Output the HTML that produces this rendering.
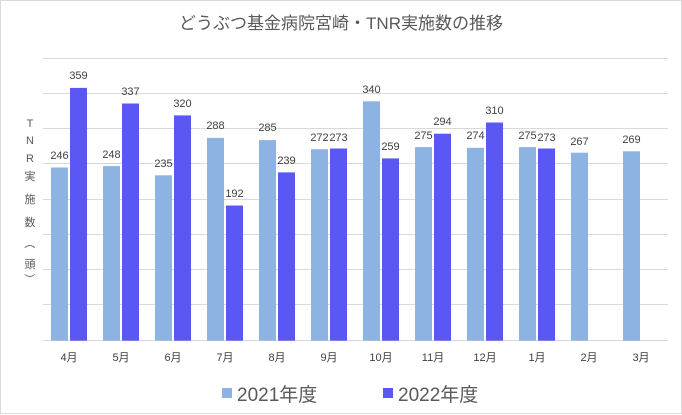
<!DOCTYPE html>
<html><head><meta charset="utf-8"><style>
html,body{margin:0;padding:0;background:#fff}
svg{display:block}
text{font-family:"Liberation Sans","Noto Sans CJK JP",sans-serif}
</style></head><body>
<svg width="682" height="415" viewBox="0 0 682 415" xmlns="http://www.w3.org/2000/svg">
<rect x="0.5" y="0.5" width="681" height="413" fill="#fff" stroke="#d9d9d9"/>
<text x="341" y="29" font-size="17" fill="#595959" text-anchor="middle">どうぶつ基金病院宮崎・TNR実施数の推移</text>
<g stroke="#d9d9d9" stroke-width="1">
<line x1="43" x2="668" y1="58.5" y2="58.5"/><line x1="43" x2="668" y1="93.5" y2="93.5"/>
<line x1="43" x2="668" y1="128.5" y2="128.5"/><line x1="43" x2="668" y1="163.5" y2="163.5"/>
<line x1="43" x2="668" y1="199.5" y2="199.5"/><line x1="43" x2="668" y1="234.5" y2="234.5"/>
<line x1="43" x2="668" y1="269.5" y2="269.5"/><line x1="43" x2="668" y1="304.5" y2="304.5"/>
<line x1="43" x2="668" y1="340.5" y2="340.5"/>
</g>
<g font-size="11" fill="#595959" text-anchor="middle">
<text x="30" y="127">T</text><text x="30" y="144">N</text><text x="30" y="162">R</text>
<text x="30" y="180">実</text><text x="30" y="203">施</text><text x="30" y="226">数</text>
<text x="30" y="247" transform="rotate(90 30 243)">（</text><text x="30" y="268">頭</text><text x="30" y="283" transform="rotate(90 30 279)">）</text>
</g>
<g id="bars"></g>
<rect x="222" y="388" width="10" height="10" fill="#8DB3E2"/>
<text x="237" y="401" font-size="19" fill="#595959">2021年度</text>
<rect x="383" y="388" width="10" height="10" fill="#5B57F5"/>
<text x="398" y="401" font-size="19" fill="#595959">2022年度</text>
<g font-size="11" fill="#404040" text-anchor="middle">
<!-- generated below -->
<g>
<rect x="51" y="167.5" width="17" height="173.2" fill="#8DB3E2"/><rect x="70" y="87.9" width="17" height="252.8" fill="#5B57F5"/>
<text x="59.5" y="159">246</text><text x="78.5" y="79">359</text><text x="69" y="361">4月</text>
<rect x="103" y="166.1" width="17" height="174.6" fill="#8DB3E2"/><rect x="122" y="103.5" width="17" height="237.2" fill="#5B57F5"/>
<text x="111.5" y="158">248</text><text x="130.5" y="95">337</text><text x="121" y="361">5月</text>
<rect x="155" y="175.3" width="17" height="165.4" fill="#8DB3E2"/><rect x="174" y="115.4" width="17" height="225.3" fill="#5B57F5"/>
<text x="163.5" y="167">235</text><text x="182.5" y="107">320</text><text x="173" y="361">6月</text>
<rect x="207" y="137.9" width="17" height="202.8" fill="#8DB3E2"/><rect x="226" y="205.5" width="17" height="135.2" fill="#5B57F5"/>
<text x="215.5" y="129">288</text><text x="234.5" y="197">192</text><text x="225" y="361">7月</text>
<rect x="259" y="140.1" width="17" height="200.6" fill="#8DB3E2"/><rect x="278" y="172.4" width="17" height="168.3" fill="#5B57F5"/>
<text x="267.5" y="131">285</text><text x="286.5" y="164">239</text><text x="277" y="361">8月</text>
<rect x="311" y="149.2" width="17" height="191.5" fill="#8DB3E2"/><rect x="330" y="148.5" width="17" height="192.2" fill="#5B57F5"/>
<text x="319.5" y="141">272</text><text x="338.5" y="141">273</text><text x="329" y="361">9月</text>
<rect x="363" y="101.3" width="17" height="239.4" fill="#8DB3E2"/><rect x="382" y="158.4" width="17" height="182.3" fill="#5B57F5"/>
<text x="371.5" y="93">340</text><text x="390.5" y="150">259</text><text x="381" y="361">10月</text>
<rect x="415" y="147.1" width="17" height="193.6" fill="#8DB3E2"/><rect x="434" y="133.7" width="17" height="207.0" fill="#5B57F5"/>
<text x="423.5" y="139">275</text><text x="442.5" y="125">294</text><text x="433" y="361">11月</text>
<rect x="467" y="147.8" width="17" height="192.9" fill="#8DB3E2"/><rect x="486" y="122.5" width="17" height="218.2" fill="#5B57F5"/>
<text x="475.5" y="139">274</text><text x="494.5" y="114">310</text><text x="485" y="361">12月</text>
<rect x="519" y="147.1" width="17" height="193.6" fill="#8DB3E2"/><rect x="538" y="148.5" width="17" height="192.2" fill="#5B57F5"/>
<text x="527.5" y="139">275</text><text x="546.5" y="141">273</text><text x="537" y="361">1月</text>
<rect x="571" y="152.7" width="17" height="188.0" fill="#8DB3E2"/>
<text x="579.5" y="145">267</text><text x="589" y="361">2月</text>
<rect x="623" y="151.3" width="17" height="189.4" fill="#8DB3E2"/>
<text x="631.5" y="143">269</text><text x="641" y="361">3月</text>
</g>
</g>
</svg>
</body></html>
